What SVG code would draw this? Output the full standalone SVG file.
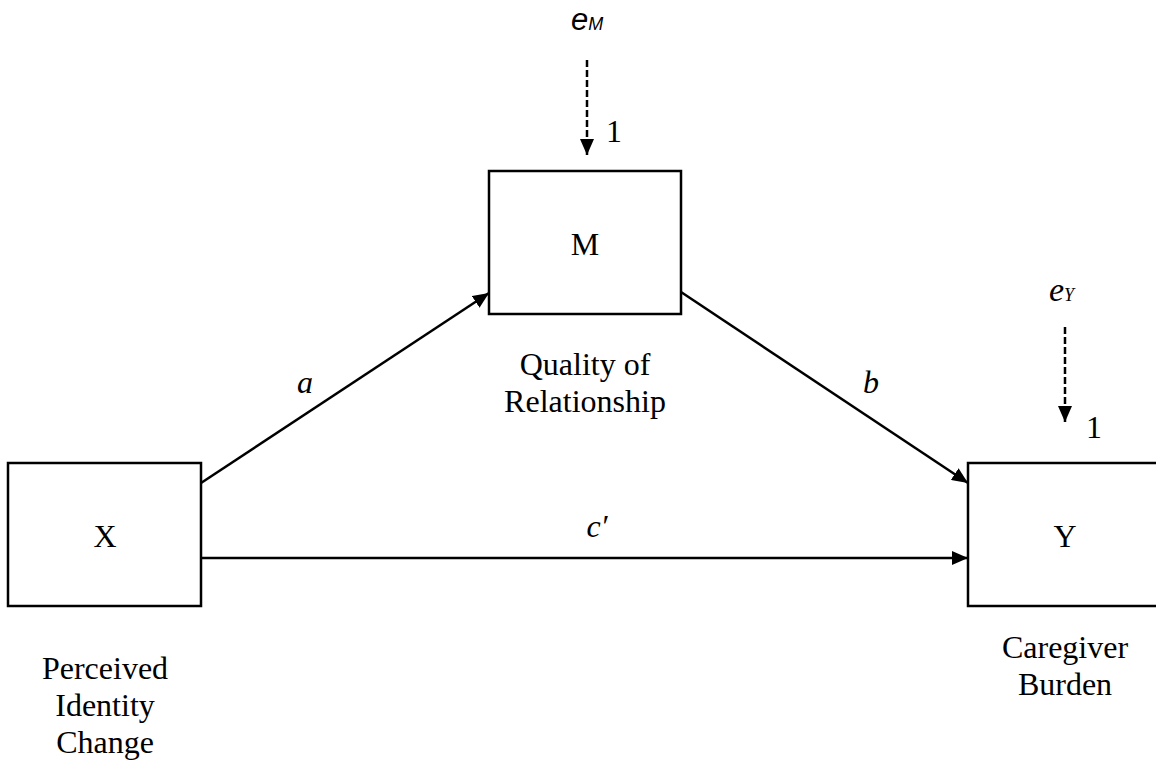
<svg xmlns="http://www.w3.org/2000/svg" width="1156" height="763" viewBox="0 0 1156 763">
<style>
.box{fill:#fff;stroke:#000;stroke-width:2.5}
.t{font-family:"Liberation Serif","Times New Roman",serif;font-size:32px;fill:#000;text-anchor:middle}
.i{font-style:italic}
.ln{stroke:#000;stroke-width:2.5;fill:none}
.dash{stroke:#000;stroke-width:2.5;fill:none;stroke-dasharray:7 3}
</style>
<defs>
<marker id="ah" viewBox="0 0 16 14" refX="16" refY="7" markerWidth="16" markerHeight="14" markerUnits="userSpaceOnUse" orient="auto">
<path d="M0,0 L16,7 L0,14 z" fill="#000"/>
</marker>
</defs>
<g id="node-X">
<rect class="box" x="8" y="463" width="193" height="143"/>
<text class="t" x="105" y="547">X</text>
<text class="t" x="105" y="679">Perceived</text>
<text class="t" x="105" y="716">Identity</text>
<text class="t" x="105" y="753">Change</text>
</g>
<g id="node-M">
<rect class="box" x="489" y="171" width="192" height="143"/>
<text class="t" x="585" y="255">M</text>
<text class="t" x="585" y="375">Quality of</text>
<text class="t" x="585" y="412">Relationship</text>
</g>
<g id="node-Y">
<rect class="box" x="968" y="463" width="200" height="143"/>
<text class="t" x="1065" y="547">Y</text>
<text class="t" x="1065" y="658">Caregiver</text>
<text class="t" x="1065" y="695">Burden</text>
</g>
<g id="node-eM">
<text x="571" y="30" style="font-family:'Liberation Sans','Open Sans',sans-serif;font-style:italic;font-size:31px;fill:#000">e<tspan style="font-size:18px">M</tspan></text>
<text class="t" x="614" y="142">1</text>
</g>
<g id="node-eY">
<text x="1049" y="301" style="font-family:'Liberation Serif',serif;font-style:italic;font-size:34px;fill:#000">e<tspan style="font-size:18px">Y</tspan></text>
<text class="t" x="1094" y="438">1</text>
</g>
<g id="connectors">
<line class="ln" x1="201" y1="483" x2="489" y2="293" marker-end="url(#ah)"/>
<line class="ln" x1="681" y1="292" x2="968" y2="483" marker-end="url(#ah)"/>
<line class="ln" x1="201" y1="558" x2="968" y2="558" marker-end="url(#ah)"/>
<line class="dash" x1="587" y1="60" x2="587" y2="155" marker-end="url(#ah)"/>
<line class="dash" x1="1065" y1="327" x2="1065" y2="422" marker-end="url(#ah)"/>
<text class="t i" x="305" y="393">a</text>
<text class="t i" x="871" y="393">b</text>
<text class="t i" x="597" y="537">c′</text>
</g>
</svg>
